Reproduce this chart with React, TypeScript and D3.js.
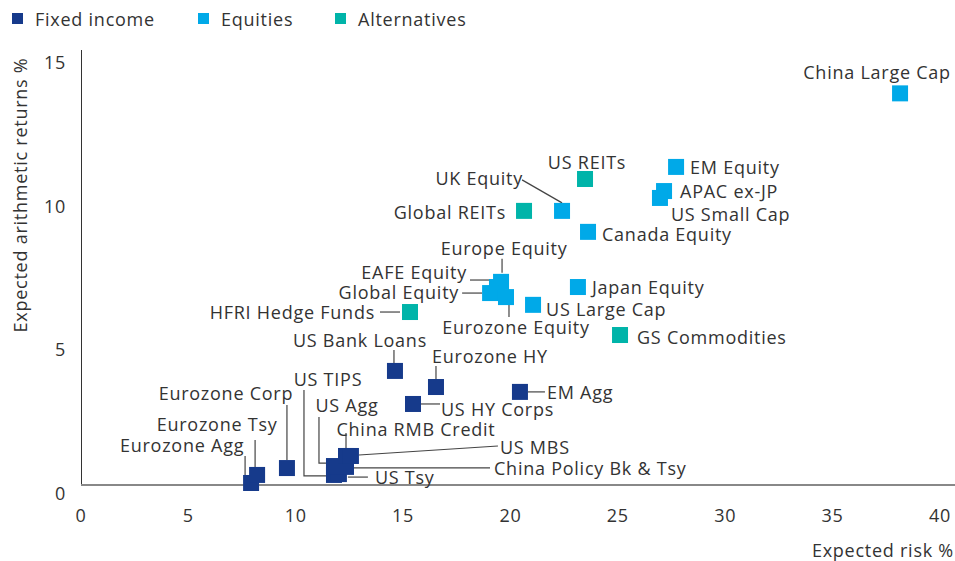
import React from 'react';
import * as d3 from 'd3';

// asset classes: [name, expected risk %, expected arithmetic return %]
const fixedIncome: [string, number, number][] = [
  ['Eurozone Agg', 7.92, 0.07],
  ['Eurozone Tsy', 8.2, 0.35],
  ['Eurozone Corp', 9.59, 0.59],
  ['US TIPS', 11.78, 0.35],
  ['US Tsy', 12.01, 0.38],
  ['US Agg', 11.78, 0.66],
  ['China Policy Bk & Tsy', 12.34, 0.63],
  ['China RMB Credit', 12.34, 1.01],
  ['US MBS', 12.57, 1.01],
  ['US Bank Loans', 14.62, 3.97],
  ['Eurozone HY', 16.53, 3.41],
  ['US HY Corps', 15.46, 2.82],
  ['EM Agg', 20.44, 3.24],
];

const equities: [string, number, number][] = [
  ['China Large Cap', 38.14, 13.63],
  ['EM Equity', 27.71, 11.07],
  ['APAC ex-JP', 27.15, 10.23],
  ['US Small Cap', 26.96, 9.99],
  ['Canada Equity', 23.61, 8.81],
  ['UK Equity', 22.4, 9.54],
  ['Japan Equity', 23.14, 6.89],
  ['US Large Cap', 21.05, 6.27],
  ['Europe Equity', 19.56, 7.07],
  ['EAFE Equity', 19.37, 6.89],
  ['Global Equity', 19.05, 6.68],
  ['Eurozone Equity', 19.79, 6.54],
];

const alternatives: [string, number, number][] = [
  ['US REITs', 23.47, 10.65],
  ['Global REITs', 20.63, 9.54],
  ['HFRI Hedge Funds', 15.32, 6.02],
  ['GS Commodities', 25.1, 5.22],
];

const groupNames = ['Fixed income', 'Equities', 'Alternatives'];
const xTicks = [0, 5, 10, 15, 20, 25, 30, 35, 40];
const yTicks = [0, 5, 10, 15];

const colors = ['#163a8b', '#00a9e8', '#00b4a9'];
const groups = [fixedIncome, equities, alternatives];

// label placement, pixel offsets from the marker centre; leader = polyline offsets
type Lab = { dx: number; dy: number; a: 'start' | 'middle' | 'end'; leader?: [number, number][] };
const labels: Record<string, Lab> = {
  'China Large Cap': { dx: -23, dy: -21, a: 'middle' },
  'EM Equity': { dx: 14, dy: 0, a: 'start' },
  'APAC ex-JP': { dx: 16, dy: 0, a: 'start' },
  'US Small Cap': { dx: 11, dy: 16, a: 'start' },
  'Canada Equity': { dx: 14, dy: 2, a: 'start' },
  'UK Equity': { dx: -39, dy: -33, a: 'end', leader: [[-40, -31], [0, -8]] },
  'US REITs': { dx: 2, dy: -17, a: 'middle' },
  'Global REITs': { dx: -18, dy: 1, a: 'end' },
  'Europe Equity': { dx: 3, dy: -34, a: 'middle', leader: [[1, -23], [1, -9]] },
  'EAFE Equity': { dx: -30, dy: -15, a: 'end', leader: [[-27, -7], [-7, -7]] },
  'Global Equity': { dx: -31, dy: -1, a: 'end', leader: [[-28, 0], [-8, 0]] },
  'Eurozone Equity': { dx: 10, dy: 30, a: 'middle', leader: [[3, 8], [3, 20]] },
  'Japan Equity': { dx: 14, dy: 0, a: 'start' },
  'US Large Cap': { dx: 13, dy: 4, a: 'start' },
  'GS Commodities': { dx: 17, dy: 2, a: 'start' },
  'HFRI Hedge Funds': { dx: -35, dy: 0, a: 'end', leader: [[-30, 0], [-10, 0]] },
  'US Bank Loans': { dx: -35, dy: -31, a: 'middle', leader: [[-1, -21], [-1, -8]] },
  'Eurozone HY': { dx: 54, dy: -31, a: 'middle', leader: [[0, -21], [0, -8]] },
  'US HY Corps': { dx: 28, dy: 5, a: 'start', leader: [[8, 0], [27, 0]] },
  'EM Agg': { dx: 27, dy: 0, a: 'start', leader: [[8, 0], [25, 0]] },
  'US TIPS': { dx: -6, dy: -96, a: 'middle', leader: [[-30, -85], [-30, 1], [-8, 1]] },
  'Eurozone Corp': { dx: -61, dy: -75, a: 'middle', leader: [[0, -63], [0, -8]] },
  'US Agg': { dx: 13, dy: -61, a: 'middle', leader: [[-15, -49], [-15, -3], [-8, -3]] },
  'Eurozone Tsy': { dx: -40, dy: -51, a: 'middle', leader: [[-2, -35], [-2, -8]] },
  'China RMB Credit': { dx: 70, dy: -27, a: 'middle', leader: [[0, -23], [0, -8]] },
  'Eurozone Agg': { dx: -69, dy: -38, a: 'middle', leader: [[-6, -27], [-6, -7]] },
  'US MBS': { dx: 149, dy: -9, a: 'start', leader: [[8, -1], [147, -10]] },
  'China Policy Bk & Tsy': { dx: 148, dy: 1, a: 'start', leader: [[8, 1], [144, 1]] },
  'US Tsy': { dx: 36, dy: 3, a: 'start', leader: [[9, 3], [29, 3]] },
};

const W = 955;
const H = 561;
const FONT = '"Open Sans", sans-serif';
const FS = 18;
const LS = 0.75;
const TEXT = '#333333';

export default function App() {
  const x = d3.scaleLinear().domain([0, 40]).range([81, 940]);
  const y = d3.scaleLinear().domain([0, 15]).range([485, 54]);
  const line = d3.line();
  const sq = 16;

  return (
    <div style={{ position: 'absolute', left: 0, top: 0 }}>
      <svg
        width={W}
        height={H}
        style={{ display: 'block', background: '#fff', letterSpacing: LS }}
        fontFamily={FONT}
      >
        {/* legend */}
        {groupNames.map((g, i) => {
          const lx = [12, 198, 335][i];
          return (
            <g key={g}>
              <rect x={lx} y={13} width={11} height={11} fill={colors[i]} />
              <text x={lx + 23} y={18.5} fontSize={FS} fill={TEXT} dominantBaseline="central">
                {g}
              </text>
            </g>
          );
        })}

        {/* axes */}
        <line x1={81.5} x2={81.5} y1={50} y2={485} stroke="#333" strokeWidth={1} />
        <line x1={81} x2={955} y1={485} y2={485} stroke="#888" strokeWidth={2} />
        {yTicks.map((t) => (
          <text key={t} x={66} y={y(t) + 8} fontSize={FS} fill={TEXT} textAnchor="end" dominantBaseline="central">
            {t}
          </text>
        ))}
        {xTicks.map((t) => (
          <text key={t} x={x(t)} y={515} fontSize={FS} fill={TEXT} textAnchor="middle" dominantBaseline="central">
            {t}
          </text>
        ))}
        <text x={954} y={550} fontSize={FS} fill={TEXT} textAnchor="end" dominantBaseline="central">
          Expected risk %
        </text>
        <text
          transform="translate(20,195) rotate(-90)"
          fontSize={FS}
          fill={TEXT}
          textAnchor="middle"
          dominantBaseline="central"
        >
          Expected arithmetic returns %
        </text>

        {/* leaders */}
        {groups.flat().map(([name, r, ret]) => {
          const l = labels[name];
          if (!l || !l.leader) return null;
          const cx = x(r);
          const cy = y(ret);
          const pts = l.leader.map(([dx, dy]) => [cx + dx, cy + dy] as [number, number]);
          return <path key={'l' + name} d={line(pts) || ''} fill="none" stroke="#444" strokeWidth={1.2} />;
        })}

        {/* markers */}
        {groups.map((grp, gi) =>
          grp.map(([name, r, ret]) => (
            <rect
              key={'m' + name}
              x={x(r) - sq / 2}
              y={y(ret) - sq / 2}
              width={sq}
              height={sq}
              fill={colors[gi]}
            />
          ))
        )}

        {/* labels */}
        {groups.flat().map(([name, r, ret]) => {
          const l = labels[name];
          return (
            <text
              key={'t' + name}
              x={x(r) + l.dx}
              y={y(ret) + l.dy}
              fontSize={FS}
              fill={TEXT}
              textAnchor={l.a}
              dominantBaseline="central"
            >
              {name}
            </text>
          );
        })}
      </svg>
    </div>
  );
}
